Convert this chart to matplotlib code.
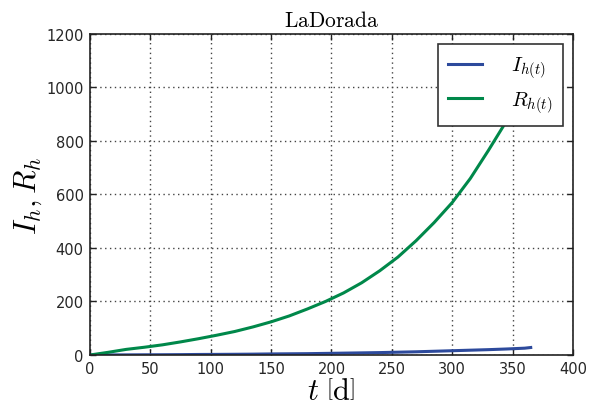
import matplotlib
matplotlib.use('Agg')
import matplotlib.pyplot as plt
import numpy as np

# values (days)
t = [0, 15, 30, 45, 60, 75, 90, 105, 120, 135, 150, 165, 180, 195, 210,
     225, 240, 255, 270, 285, 300, 315, 330, 345, 360, 365]
I_h = [0, 0.3, 0.5, 0.8, 1, 1.4, 2, 2.3, 2.7, 3.2, 4, 4.5, 5, 6, 7,
       8, 9, 10.5, 12, 14, 16, 18, 20, 22.5, 25.5, 28]
R_h = [0, 10, 21, 29, 38, 49, 61, 74, 88, 105, 124, 146, 172, 200, 232,
       270, 315, 366, 427, 495, 570, 660, 765, 875, 1015, 1066]

plt.rcParams['mathtext.fontset'] = 'cm'

fig = plt.figure(figsize=(5.89, 4.10), dpi=100)
ax = fig.add_axes([0.1528, 0.1317, 0.82, 0.783])

ax.plot(t, I_h, color='#2d4a9c', lw=2.2, label=r'$I_{h(t)}$')
ax.plot(t, R_h, color='#00884a', lw=2.2, label=r'$R_{h(t)}$')

ax.set_xlim(0, 400)
ax.set_ylim(0, 1200)
ax.set_xticks(np.arange(0, 401, 50))
ax.set_yticks(np.arange(0, 1201, 200))
ax.tick_params(direction='in', top=True, right=True, length=4, width=1,
               color='#222222', labelcolor='#262626', labelsize=10.5, pad=4.5)
for s in ax.spines.values():
    s.set_linewidth(1.2)
    s.set_color('#222222')
ax.grid(True, linestyle=(0, (1, 2.5)), color='#444444', lw=1)

ax.set_title(r'$\mathrm{LaDorada}$', fontsize=15.5, pad=6)
ax.set_xlabel(r'$t\ \left[\mathrm{d}\right]$', fontsize=22, labelpad=0)
ax.set_ylabel(r'$I_h, R_h$', fontsize=22, labelpad=2)

leg = ax.legend(loc='upper right', fontsize=15, fancybox=False, handlelength=1.6,
                borderpad=0.5, labelspacing=0.45, handletextpad=1.4, framealpha=1)
leg.get_frame().set_edgecolor('#333333')
leg.get_frame().set_linewidth(1.2)

fig.savefig('out.png', dpi=100)
